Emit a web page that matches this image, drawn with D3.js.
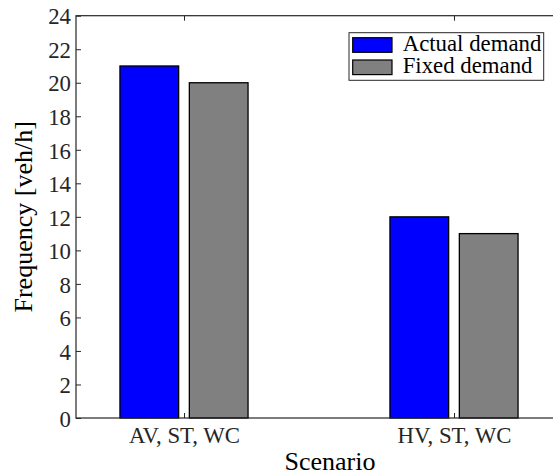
<!DOCTYPE html>
<html>
<head>
<meta charset="utf-8">
<script src="https://cdn.jsdelivr.net/npm/d3@7/dist/d3.min.js"></script>
<style>
  html, body { margin: 0; padding: 0; background: #fff; }
</style>
</head>
<body>
<svg id="chart" width="553" height="476"></svg>
<script>
// Scenario categories and the two demand series (veh/h)
const categories = ["AV, ST, WC", "HV, ST, WC"];
const seriesNames = ["Actual demand", "Fixed demand"];
const actualDemand = [21, 12];
const fixedDemand = [20, 11];
const yTicks = [0, 2, 4, 6, 8, 10, 12, 14, 16, 18, 20, 22, 24];
const seriesColors = ["#0000ff", "#808080"];

const series = [actualDemand, fixedDemand];

const svg = d3.select("#chart");
const axisColor = "#262626";
const serif = "Liberation Serif";
const labelSize = "22.8px";
const titleSize = "26px";

const plotLeft = 76, plotRight = 562, plotTop = 15.7, plotBottom = 418;

// category index 1..n on a continuous axis, as in a grouped bar plot
const x = d3.scaleLinear().domain([0.6, 2.4]).range([plotLeft, plotRight]);
const y = d3.scaleLinear().domain([0, 24]).range([plotBottom, plotTop]);

const groupOffset = 0.1285;   // centre offset of each bar in a group
const barWidth = 0.2174;      // bar width in category units

// bars
series.forEach((vals, s) => {
  const off = s === 0 ? -groupOffset : groupOffset;
  svg.append("g")
    .selectAll("rect")
    .data(vals)
    .join("rect")
    .attr("x", (d, i) => x(i + 1 + off - barWidth / 2))
    .attr("width", x(barWidth) - x(0))
    .attr("y", d => y(d))
    .attr("height", d => y(0) - y(d))
    .attr("fill", seriesColors[s])
    .attr("stroke", "#000")
    .attr("stroke-width", 1.3);
});

// left axis (ticks pointing inward)
const yAxis = d3.axisLeft(y).tickValues(yTicks).tickSize(-5).tickPadding(10).tickFormat(d3.format("d"));
const gy = svg.append("g").attr("transform", `translate(${plotLeft},0)`).call(yAxis)
  .attr("font-family", null).attr("font-size", null);
gy.select(".domain").remove();
gy.selectAll(".tick line").attr("stroke", axisColor);
gy.selectAll(".tick text")
  .attr("fill", axisColor)
  .style("font-size", labelSize)
  .style("font-family", serif)
  .attr("x", -5)
  .attr("dy", "0.36em");

// bottom axis
const xAxis = d3.axisBottom(x).tickValues([1, 2]).tickSize(-5)
  .tickFormat(d => categories[d - 1]);
const gx = svg.append("g").attr("transform", `translate(0,${plotBottom})`).call(xAxis)
  .attr("font-family", null).attr("font-size", null);
gx.select(".domain").remove();
gx.selectAll(".tick line").attr("stroke", axisColor);
gx.selectAll(".tick text")
  .attr("fill", axisColor)
  .style("font-size", labelSize)
  .style("font-family", serif)
  .attr("y", 25)
  .attr("dy", 0);

// top axis ticks
const gt = svg.append("g").attr("transform", `translate(0,${plotTop})`)
  .call(d3.axisTop(x).tickValues([1, 2]).tickSize(-5).tickFormat(""));
gt.select(".domain").remove();
gt.selectAll(".tick line").attr("stroke", axisColor);

// axes box
svg.append("rect")
  .attr("x", plotLeft).attr("y", plotTop)
  .attr("width", plotRight - plotLeft).attr("height", plotBottom - plotTop)
  .attr("fill", "none")
  .attr("stroke", axisColor)
  .attr("stroke-width", 1.2);

// axis titles
svg.append("text")
  .attr("x", 330).attr("y", 470)
  .attr("text-anchor", "middle")
  .style("font-size", titleSize)
  .style("font-family", serif)
  .attr("fill", "#000")
  .text("Scenario");

svg.append("text")
  .attr("transform", `translate(32,${(plotTop + plotBottom) / 2}) rotate(-90)`)
  .attr("text-anchor", "middle")
  .style("font-size", titleSize)
  .style("font-family", serif)
  .attr("fill", "#000")
  .text("Frequency [veh/h]");

// legend
const legend = svg.append("g");
legend.append("rect")
  .attr("x", 349).attr("y", 32.7)
  .attr("width", 194.7).attr("height", 47.6)
  .attr("fill", "#fff")
  .attr("stroke", axisColor)
  .attr("stroke-width", 1);

seriesNames.forEach((name, s) => {
  const yTop = s === 0 ? 37.7 : 60;
  legend.append("rect")
    .attr("x", 352.7).attr("y", yTop)
    .attr("width", 39.3).attr("height", 14.6)
    .attr("fill", seriesColors[s])
    .attr("stroke", "#000")
    .attr("stroke-width", 1.2);
  legend.append("text")
    .attr("x", 402.7).attr("y", yTop + 12.8)
    .style("font-size", labelSize)
    .style("font-family", serif)
    .attr("fill", "#000")
    .text(name);
});
</script>
</body>
</html>
